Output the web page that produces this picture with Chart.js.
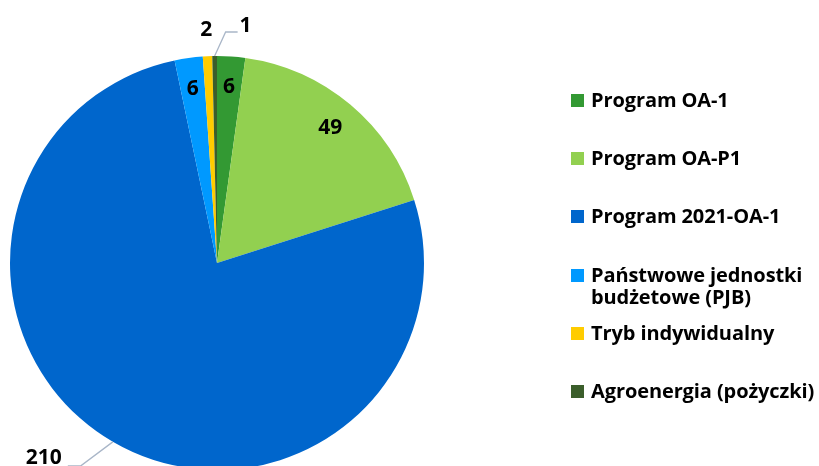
<!DOCTYPE html>
<html>
<head>
<meta charset="utf-8">
<script src="https://cdn.jsdelivr.net/npm/chart.js@4/dist/chart.umd.min.js"></script>
<style>
  html, body { margin: 0; padding: 0; width: 819px; height: 466px; overflow: hidden; background: #fff; }
  #wrap { position: absolute; left: 0; top: 0; width: 434px; height: 526px; }
  #legend { position: absolute; left: 0; top: 0; width: 819px; height: 466px; pointer-events: none;
            font-family: "Open Sans", sans-serif; font-weight: bold; font-size: 20px; color: #000; }
  .item { position: absolute; left: 571px; line-height: 22px; }
  .sw { position: absolute; left: 0; top: 5px; width: 13px; height: 13px; }
  .txt { position: absolute; left: 20px; top: 0; white-space: nowrap; letter-spacing: -0.1px; }
</style>
</head>
<body>
<div id="wrap"><canvas id="pie"></canvas></div>
<div id="legend"></div>
<script>
var categories = ['Program OA-1', 'Program OA-P1', 'Program 2021-OA-1', ['Państwowe jednostki', 'budżetowe (PJB)'], 'Tryb indywidualny', 'Agroenergia (pożyczki)'];
var values = [6, 49, 210, 6, 2, 1];
var colors = ['#339933', '#92D050', '#0066CC', '#0099FF', '#FFCC00', '#3B5E2B'];

// label placement: inside slices, or outside with a leader line
var labelModes = ['in', 'in', 'out210', 'in', 'out2', 'out1'];

var labelPlugin = {
    id: 'sliceLabels',
    afterDatasetsDraw: function (chart) {
        var ctx = chart.ctx;
        var meta = chart.getDatasetMeta(0);
        ctx.save();
        ctx.font = 'bold 21px "Open Sans", sans-serif';
        ctx.fillStyle = '#000';
        ctx.textAlign = 'center';
        ctx.textBaseline = 'middle';
        ctx.strokeStyle = '#A9B6C8';
        ctx.lineWidth = 1.3;
        meta.data.forEach(function (arc, i) {
            var mid = (arc.startAngle + arc.endAngle) / 2;
            var r = arc.outerRadius;
            var cx = arc.x, cy = arc.y;
            var cos = Math.cos(mid), sin = Math.sin(mid);
            var text = String(values[i]);
            var mode = labelModes[i];
            if (mode === 'in') {
                ctx.fillText(text, cx + cos * r * 0.85, cy + sin * r * 0.85);
            } else if (mode === 'out2') {
                ctx.fillText(text, cx + cos * (r + 26), cy + sin * (r + 26));
            } else if (mode === 'out1') {
                var ex = cx + cos * r, ey = cy + sin * r;
                ctx.beginPath();
                ctx.moveTo(ex, ey);
                ctx.lineTo(ex + 11, ey - 24);
                ctx.lineTo(ex + 23, ey - 24);
                ctx.stroke();
                ctx.fillText(text, ex + 31, ey - 30);
            } else if (mode === 'out210') {
                var bx = cx + cos * r, by = cy + sin * r;
                ctx.beginPath();
                ctx.moveTo(bx, by);
                ctx.lineTo(bx - 32, by + 24);
                ctx.lineTo(bx - 45, by + 24);
                ctx.stroke();
                ctx.fillText(text, bx - 69, by + 16);
            }
        });
        ctx.restore();
    }
};

new Chart(document.getElementById('pie'), {
    type: 'pie',
    data: {
        labels: categories,
        datasets: [{
            data: values,
            backgroundColor: colors,
            borderWidth: 0
        }]
    },
    options: {
        responsive: true,
        maintainAspectRatio: false,
        animation: false,
        layout: { padding: 10 },
        plugins: { legend: { display: false }, tooltip: { enabled: false } }
    },
    plugins: [labelPlugin]
});

// legend in the right-hand column
var legend = document.getElementById('legend');
categories.forEach(function (name, i) {
    var item = document.createElement('div');
    item.className = 'item';
    item.style.top = Math.round(89 + i * 58.2) + 'px';
    var sw = document.createElement('div');
    sw.className = 'sw';
    sw.style.background = colors[i];
    var txt = document.createElement('div');
    txt.className = 'txt';
    txt.innerHTML = [].concat(name).join('<br>');
    item.appendChild(sw);
    item.appendChild(txt);
    legend.appendChild(item);
});
</script>
</body>
</html>
